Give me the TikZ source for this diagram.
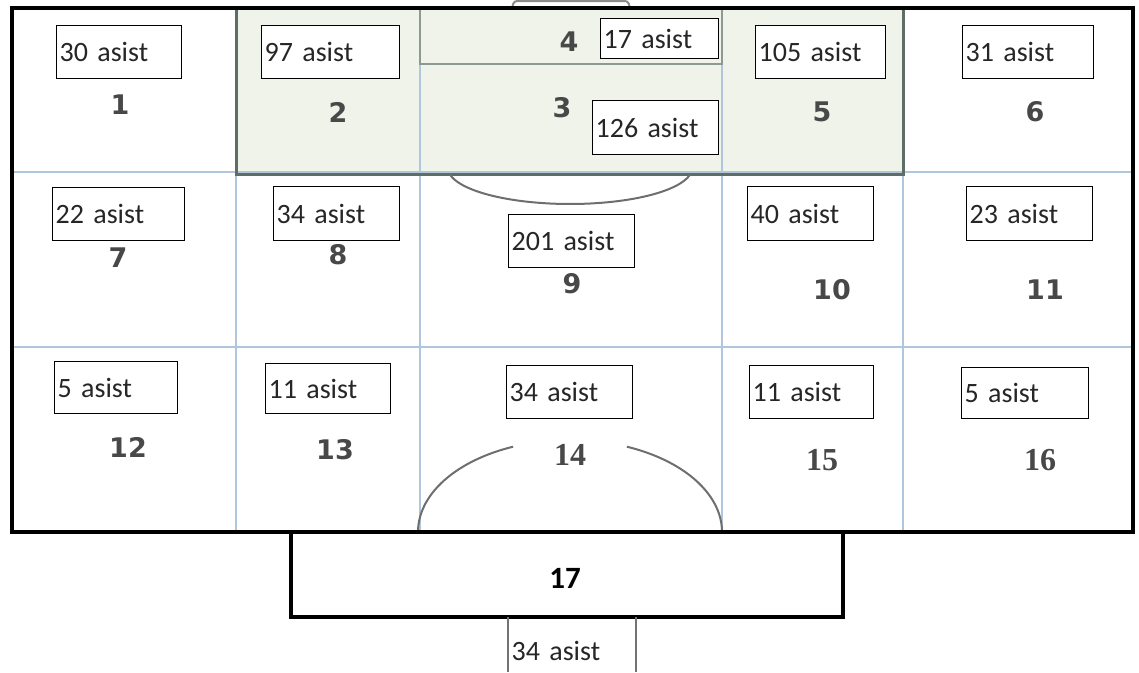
\documentclass[tikz,border=0pt]{standalone}
\usepackage{fontspec}
\setmainfont{Carlito}
\newfontfamily\numfont{DejaVu Sans}
\newfontfamily\numserif{Liberation Serif}
\definecolor{gridblue}{HTML}{AFC6DD}
\definecolor{penborder}{HTML}{5E6E66}
\definecolor{penfill}{HTML}{EFF3EA}
\definecolor{goalborder}{HTML}{8C9A93}
\definecolor{numgrey}{HTML}{484848}
\definecolor{arcgrey}{HTML}{6E6E6E}
\begin{document}
\begin{tikzpicture}[x=1pt,y=-1pt,
  ann/.style={draw=black, line width=1.3pt, fill=white, anchor=north west, align=left,
    inner xsep=3pt, inner ysep=0pt, font=\fontsize{28}{30}\selectfont, text=black!85},
  num/.style={font=\numfont\bfseries\fontsize{27}{30}\selectfont, text=numgrey, inner sep=0pt},
  nums/.style={font=\numserif\bfseries\fontsize{32}{34}\selectfont, text=numgrey, inner sep=0pt},
  grid/.style={draw=gridblue, line width=2pt},
  fieldline/.style={draw=black, line width=4.5pt},
  arcline/.style={draw=arcgrey, line width=2pt}]
\useasboundingbox (0,0) rectangle (1139,672);
% penalty area fill
\fill[penfill] (236,8) rectangle (903,174);
% grid
\draw[grid] (420,8) -- (420,532);
\draw[grid] (722,8) -- (722,532);
\draw[grid] (236,8) -- (236,532);
\draw[grid] (903,8) -- (903,532);
\draw[grid] (12,172) -- (1133,172);
\draw[grid] (12,347) -- (1133,347);
% goal area
\draw[draw=goalborder, line width=2.5pt] (420,8) rectangle (722,64);
% penalty area border
\draw[draw=penborder, line width=3pt] (236,8) rectangle (903,174);
% arcs
\draw[arcline] plot[domain=190:350, samples=60] ({570+122*cos(\x)}, {168-36*sin(\x)});
\draw[arcline] plot[domain=112:180, samples=50] ({570+152*cos(\x)}, {532-92*sin(\x)});
\draw[arcline] plot[domain=0:68, samples=50] ({570+152*cos(\x)}, {532-92*sin(\x)});
% goal at top
\draw[draw=arcgrey!80, line width=2pt, rounded corners=3pt] (512,8) -- (514,1) -- (628,1) -- (630,8);
% outer field
\draw[fieldline] (12,8) rectangle (1133,532);
% box 17
\draw[fieldline] (291,532) rectangle (843,617);
% box under 17
\draw[draw=black!55, line width=1.3pt] (508,617) -- (508,672) (636,617) -- (636,672);
% annotations
\node[ann, text width=119pt, minimum height=53pt] (a1) at (56,25) {30 asist};
\node[ann, text width=132pt, minimum height=53pt] (a2) at (261,25) {97 asist};
\node[ann, text width=112pt, minimum height=40pt] (a4) at (600,18) {17 asist};
\node[ann, text width=120pt, minimum height=54pt] (a3) at (592,100) {126 asist};
\node[ann, text width=124pt, minimum height=53pt] (a5) at (755,25) {105 asist};
\node[ann, text width=125pt, minimum height=53pt] (a6) at (962,25) {31 asist};
\node[ann, text width=126pt, minimum height=53pt] (a7) at (52,187) {22 asist};
\node[ann, text width=120pt, minimum height=54pt] (a8) at (273,186) {34 asist};
\node[ann, text width=120pt, minimum height=53pt] (a9) at (508,214) {201 asist};
\node[ann, text width=120pt, minimum height=54pt] (a10) at (747,186) {40 asist};
\node[ann, text width=120pt, minimum height=54pt] (a11) at (966,186) {23 asist};
\node[ann, text width=117pt, minimum height=52pt] (a12) at (54,361) {5 asist};
\node[ann, text width=119pt, minimum height=50pt] (a13) at (265,363) {11 asist};
\node[ann, text width=120pt, minimum height=53pt] (a14) at (506,365) {34 asist};
\node[ann, text width=118pt, minimum height=53pt] (a15) at (749,365) {11 asist};
\node[ann, text width=121pt, minimum height=51pt] (a16) at (961,367) {5 asist};
\node[ann, draw=none, fill=none, text width=119pt, minimum height=55pt] (a17) at (508,623) {34 asist};
% zone numbers
\node[num] (z1) at (120,105) {1};
\node[num] (z2) at (338,112) {2};
\node[num] (z3) at (562,108) {3};
\node[num] (z4) at (569,42) {4};
\node[num] (z5) at (822,112) {5};
\node[num] (z6) at (1035,112) {6};
\node[num] (z7) at (118,258) {7};
\node[num] (z8) at (338,255) {8};
\node[num] (z9) at (572,284) {9};
\node[num] (z10) at (832,290) {10};
\node[num] (z11) at (1045,290) {11};
\node[num] (z12) at (128,447) {12};
\node[num] (z13) at (335,450) {13};
\node[nums] (z14) at (570,455) {14};
\node[nums] (z15) at (822,460) {15};
\node[nums] (z16) at (1040,460) {16};
\node[font=\bfseries\fontsize{31}{33}\selectfont, text=black, inner sep=0pt] (z17) at (565,578) {17};
\end{tikzpicture}
\end{document}
